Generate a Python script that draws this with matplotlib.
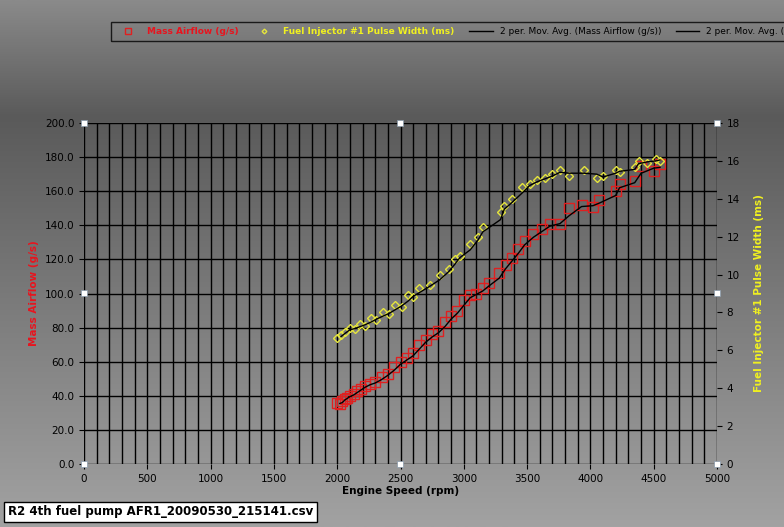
import numpy as np
import matplotlib
matplotlib.use("Agg")
import matplotlib.pyplot as plt
from matplotlib.colors import LinearSegmentedColormap

maf_rpm = [2000,2020,2040,2060,2080,2100,2130,2160,2190,2220,2260,2300,2350,2400,2450,2500,2550,2600,2650,2700,2750,2800,2850,2900,2950,3000,3050,3100,3150,3200,3280,3330,3380,3430,3480,3550,3620,3680,3760,3830,3930,4020,4070,4200,4230,4350,4400,4500,4550]
maf = [36,35,37,38,39,40,41,43,44,46,47,48,51,53,57,60,62,65,70,73,76,78,83,87,90,96,99,100,103,106,112,117,121,126,131,135,138,141,141,150,152,151,155,160,164,166,175,172,176]
inj_rpm = [2000,2030,2060,2100,2140,2180,2220,2270,2310,2360,2410,2460,2510,2560,2600,2650,2730,2810,2880,2930,2970,3050,3110,3150,3290,3320,3380,3460,3520,3580,3640,3700,3760,3830,3950,4050,4100,4200,4230,4350,4380,4450,4520,4550]
inj = [6.65,6.8,6.97,7.2,7.1,7.4,7.3,7.7,7.6,8.0,7.9,8.4,8.3,8.9,8.8,9.3,9.45,10.0,10.3,10.8,11.0,11.6,12.0,12.5,13.3,13.6,14.0,14.6,14.8,15.0,15.1,15.3,15.5,15.2,15.5,15.1,15.2,15.5,15.4,15.7,16.0,15.9,16.1,16.0]

def movavg(x, y):
    x = np.asarray(x, float); y = np.asarray(y, float)
    return x[1:], (y[1:] + y[:-1]) / 2

W, H = 784, 527
fig = plt.figure(figsize=(W/100, H/100), dpi=100)
bg = fig.add_axes([0, 0, 1, 1], zorder=-10)
cmap = LinearSegmentedColormap.from_list("g", [(0, "#8a8a8a"), (0.22, "#5a5a5a"), (1, "#a2a2a2")])
bg.imshow(np.linspace(0, 1, 256)[:, None], aspect="auto", cmap=cmap, extent=[0, 1, 0, 1])
bg.axis("off")

ax = fig.add_axes([84/W, 1-464/H, (717-84)/W, (464-123)/H])
ax.patch.set_alpha(0)
ax.set_xlim(0, 5000); ax.set_ylim(0, 200)
ax.set_xticks(np.arange(0, 5001, 500))
ax.set_xticks(np.arange(0, 5001, 100), minor=True)
ax.set_yticks(np.arange(0, 201, 20))
ax.set_yticklabels([f"{v:.1f}" for v in np.arange(0, 201, 20)])
ax.grid(True, which="both", axis="x", color="black", lw=1)
ax.grid(True, which="major", axis="y", color="black", lw=1)
ax.tick_params(which="minor", length=0)
ax.tick_params(labelsize=7.5, colors="black")
for s in ax.spines.values():
    s.set_visible(False)
ax.set_xlabel("Engine Speed (rpm)", fontsize=7.5, fontweight="bold", labelpad=2)
ax.set_ylabel("Mass Airflow (g/s)", fontsize=7.5, fontweight="bold", color="#e8141e")

ax2 = ax.twinx()
ax2.set_ylim(0, 18)
ax2.set_yticks(np.arange(0, 19, 2))
ax2.tick_params(labelsize=7.5, colors="black")
for s in ax2.spines.values():
    s.set_visible(False)
ax2.set_ylabel("Fuel Injector #1 Pulse Width (ms)", fontsize=7.5, fontweight="bold", color="#f0f020", labelpad=10)

h1, = ax.plot(maf_rpm, maf, "s", mfc="none", mec="#e02020", ms=7, mew=1, label="Mass Airflow (g/s)")
h2, = ax2.plot(inj_rpm, inj, "D", mfc="none", mec="#e6e63c", ms=4, mew=1, label="Fuel Injector #1 Pulse Width (ms)")
mx, my = movavg(maf_rpm, maf)
h3, = ax.plot(mx, my, color="black", lw=1, label="2 per. Mov. Avg. (Mass Airflow (g/s))")
ix, iy = movavg(inj_rpm, inj)
h4, = ax2.plot(ix, iy, color="black", lw=1, label="2 per. Mov. Avg. (Fuel Injector #1 Pulse Width (ms))")

for xf, yf in [(84,123),(400,123),(717,123),(84,293),(717,293),(84,464),(400,464),(717,464)]:
    fig.patches.append(plt.Rectangle(((xf-3)/W, 1-(yf+3)/H), 6/W, 6/H, transform=fig.transFigure,
                                     fc="white", ec="#8899aa", lw=0.5))

leg = fig.legend(handles=[h1, h2, h3, h4], loc="upper left", bbox_to_anchor=(106/W, 1-17/H), ncol=4,
                 frameon=True, fontsize=6.5, handlelength=2.6, columnspacing=1.6, borderpad=0.6,
                 markerscale=0.6)
leg.get_frame().set_facecolor("none"); leg.get_frame().set_edgecolor("black"); leg.get_frame().set_linewidth(1)
leg.get_frame().set_boxstyle("square", pad=0)
cols = ["#e8141e", "#f0f020", "black", "black"]
for t, c in zip(leg.get_texts(), cols):
    t.set_color(c)
    if c != "black":
        t.set_fontweight("bold")

fig.text(8/W, 1-512/H, "R2 4th fuel pump AFR1_20090530_215141.csv", fontsize=8.5, fontweight="bold",
         va="center", ha="left", bbox=dict(boxstyle="square,pad=0.3", fc="white", ec="black", lw=1))

fig.savefig("out.png", dpi=100)
